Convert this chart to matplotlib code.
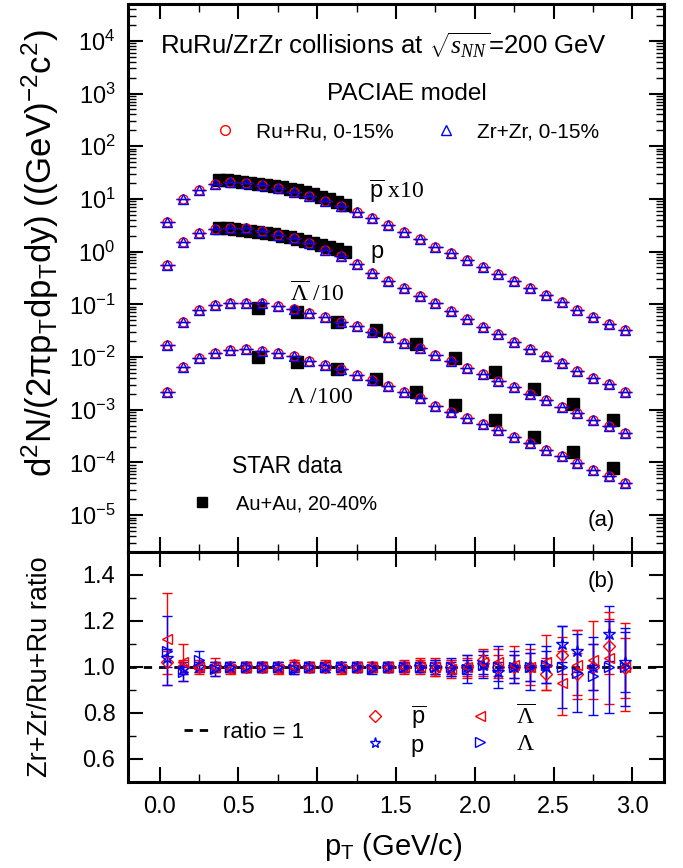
import matplotlib
matplotlib.use("Agg")
import matplotlib.pyplot as plt
from matplotlib.ticker import (LogLocator, FixedLocator, MultipleLocator,
                               FormatStrFormatter, NullFormatter)
from matplotlib.lines import Line2D

# Arial-like text, Times-like symbols
plt.rcParams["font.family"] = "Liberation Sans"
plt.rcParams["mathtext.fontset"] = "custom"
plt.rcParams["mathtext.rm"] = "Liberation Serif"
plt.rcParams["mathtext.it"] = "Liberation Serif:italic"
plt.rcParams["mathtext.bf"] = "Liberation Serif:bold"
plt.rcParams["mathtext.sf"] = "Liberation Sans"

# -- data --
pt = [0.05, 0.15, 0.25, 0.35, 0.45, 0.55, 0.65, 0.75, 0.85, 0.95,
      1.05, 1.15, 1.25, 1.35, 1.45, 1.55, 1.65, 1.75, 1.85, 1.95,
      2.05, 2.15, 2.25, 2.35, 2.45, 2.55, 2.65, 2.75, 2.85, 2.95]

# PACIAE spectra (Ru+Ru), pbar scaled x10, Lambda-bar /10, Lambda /100
ru_pbar = [3.7, 9.8, 15.0, 18.8, 20.5, 20.0, 18.5, 16.3, 13.8, 11.5,
           9.3, 7.3, 5.7, 4.3, 3.2, 2.4, 1.72, 1.25, 0.93, 0.70,
           0.52, 0.38, 0.28, 0.205, 0.148, 0.110, 0.079, 0.058, 0.043, 0.032]
ru_p = [0.555, 1.53, 2.21, 2.64, 2.83, 2.75, 2.45, 2.10, 1.78, 1.43,
        1.07, 0.82, 0.58, 0.40, 0.28, 0.20, 0.145, 0.104, 0.074, 0.052,
        0.037, 0.027, 0.0195, 0.0139, 0.0104, 0.0076, 0.0055, 0.0040, 0.0031, 0.0022]
ru_lbar = [0.0168, 0.0466, 0.0776, 0.0966, 0.104, 0.107, 0.104, 0.095, 0.083, 0.069,
           0.058, 0.0466, 0.0395, 0.030, 0.024, 0.0186, 0.0146, 0.0109, 0.0085, 0.0062,
           0.0048, 0.0035, 0.0027, 0.0020, 0.00152, 0.00112, 0.00085, 0.00065, 0.00049, 0.000355]
ru_lam = [0.0022, 0.0065, 0.0094, 0.0120, 0.0135, 0.0139, 0.0131, 0.0120, 0.0104, 0.0085,
          0.0070, 0.0058, 0.0045, 0.00365, 0.0028, 0.0022, 0.00164, 0.00117, 0.00091, 0.00071,
          0.00053, 0.00041, 0.00031, 0.00023, 0.00017, 0.000132, 0.000096, 0.000071, 0.000055, 0.000040]

# Zr+Zr points sit on top of the Ru+Ru ones at this scale
zr_pbar = ru_pbar
zr_p = ru_p
zr_lbar = ru_lbar
zr_lam = ru_lam

# STAR Au+Au 20-40%
star_pt_p = [0.375, 0.425, 0.475, 0.525, 0.575, 0.625, 0.675, 0.725, 0.775,
             0.825, 0.875, 0.925, 0.975, 1.025, 1.075, 1.125, 1.175]
star_pbar = [23.0, 22.5, 22.0, 21.0, 20.0, 19.3, 18.5, 17.5, 16.5,
             15.5, 14.5, 13.3, 12.2, 11.0, 10.0, 8.8, 7.8]
star_p = [2.75, 2.75, 2.7, 2.6, 2.5, 2.4, 2.28, 2.15, 2.0,
          1.87, 1.73, 1.6, 1.47, 1.35, 1.22, 1.1, 1.0]
star_pt_l = [0.625, 0.875, 1.125, 1.375, 1.625, 1.875, 2.125, 2.375, 2.625, 2.875]
star_lbar = [0.084, 0.072, 0.047, 0.032, 0.0176, 0.0094, 0.0052, 0.0025, 0.00128, 0.00065]
star_lam = [0.0098, 0.0081, 0.0058, 0.0038, 0.0022, 0.00122, 0.00064, 0.00031, 0.00016, 0.00008]

# Zr+Zr / Ru+Ru ratios
ratio_pbar = [1.02, 1.00, 1.00, 1.00, 1.00, 1.00, 1.00, 1.00, 1.01, 1.00,
              1.00, 1.00, 1.00, 1.00, 1.00, 1.00, 1.01, 0.99, 1.00, 1.00,
              1.03, 1.00, 1.00, 1.00, 0.97, 1.05, 0.97, 1.00, 1.09, 0.995]
err_pbar = [0.05, 0.03, 0.02, 0.02, 0.02, 0.02, 0.02, 0.02, 0.02, 0.02,
            0.02, 0.02, 0.02, 0.02, 0.02, 0.02, 0.03, 0.03, 0.03, 0.04,
            0.04, 0.05, 0.05, 0.06, 0.07, 0.08, 0.09, 0.10, 0.12, 0.13]
ratio_p = [1.04, 0.99, 1.00, 1.00, 1.00, 1.00, 1.00, 1.00, 1.00, 1.00,
           1.00, 1.00, 1.00, 1.00, 1.00, 1.00, 1.00, 1.00, 0.99, 1.00,
           1.01, 0.98, 1.00, 1.00, 1.00, 1.10, 1.07, 1.00, 1.145, 1.02]
err_p = [0.04, 0.02, 0.02, 0.02, 0.02, 0.02, 0.02, 0.02, 0.02, 0.02,
         0.02, 0.02, 0.02, 0.02, 0.02, 0.02, 0.02, 0.03, 0.03, 0.03,
         0.04, 0.04, 0.05, 0.06, 0.07, 0.08, 0.09, 0.10, 0.12, 0.13]
ratio_lbar = [1.12, 1.02, 1.00, 1.00, 0.99, 1.00, 1.00, 0.99, 1.00, 1.00,
              1.01, 0.99, 1.00, 1.00, 1.00, 1.00, 1.00, 1.00, 0.99, 1.00,
              1.02, 1.02, 1.01, 1.00, 1.02, 0.93, 1.01, 1.03, 1.04, 1.00]
err_lbar = [0.20, 0.08, 0.03, 0.04, 0.02, 0.02, 0.02, 0.02, 0.03, 0.02,
            0.02, 0.02, 0.02, 0.02, 0.02, 0.03, 0.03, 0.04, 0.04, 0.05,
            0.06, 0.06, 0.08, 0.08, 0.12, 0.14, 0.15, 0.17, 0.20, 0.19]
ratio_lam = [1.07, 0.98, 1.03, 0.99, 1.00, 1.00, 1.00, 1.00, 0.99, 1.00,
             1.00, 1.00, 1.00, 0.99, 1.00, 1.00, 1.00, 1.00, 1.00, 0.99,
             1.01, 1.00, 1.00, 1.00, 1.01, 1.00, 0.975, 0.96, 1.00, 1.00]
err_lam = [0.15, 0.04, 0.04, 0.03, 0.02, 0.02, 0.02, 0.02, 0.02, 0.02,
           0.02, 0.02, 0.02, 0.02, 0.02, 0.02, 0.02, 0.03, 0.04, 0.06,
           0.06, 0.09, 0.07, 0.10, 0.08, 0.18, 0.17, 0.17, 0.20, 0.17]

fig = plt.figure(figsize=(6.83, 8.68), dpi=100)
ax1 = fig.add_axes([0.1874, 0.3641, 0.7848, 0.6313])
ax2 = fig.add_axes([0.1874, 0.0991, 0.7848, 0.2650])

# -- top panel: spectra --
for ys in [ru_pbar, ru_p, ru_lbar, ru_lam]:
    ax1.errorbar(pt, ys, xerr=0.045, fmt="o", ms=6.5, mfc="none", mec="red",
                 mew=1.0, ecolor="red", elinewidth=1.0, capsize=0, zorder=3)
for ys in [zr_pbar, zr_p, zr_lbar, zr_lam]:
    ax1.errorbar(pt, ys, xerr=0.045, fmt="^", ms=7.5, mfc="none", mec="blue",
                 mew=1.0, ecolor="blue", elinewidth=1.0, capsize=0, zorder=4)

ax1.plot(star_pt_p, star_pbar, "s", color="black", ms=9, zorder=2)
ax1.plot(star_pt_p, star_p, "s", color="black", ms=9, zorder=2)
ax1.plot(star_pt_l, star_lbar, "s", color="black", ms=9, zorder=2)
ax1.plot(star_pt_l, star_lam, "s", color="black", ms=9, zorder=2)

ax1.set_yscale("log")
ax1.set_xlim(-0.2, 3.2)
ax1.set_ylim(2e-6, 5e4)
ax1.yaxis.set_major_locator(FixedLocator([10.0 ** k for k in range(-5, 5)]))
ax1.yaxis.set_minor_locator(LogLocator(base=10, subs=[2, 3, 4, 5, 6, 7, 8, 9], numticks=300))
ax1.yaxis.set_minor_formatter(NullFormatter())
ax1.xaxis.set_major_locator(MultipleLocator(0.5))
ax1.xaxis.set_minor_locator(MultipleLocator(0.25))
ax1.tick_params(axis="x", labelbottom=False)

ax1.text(0.0, 8.3e3, r"RuRu/ZrZr collisions at $\sqrt{s_{NN}}$=200 GeV",
         fontsize=18.5, ha="left", va="center")
ax1.text(1.57, 1000, "PACIAE model", fontsize=17.5, ha="center", va="center")

model_handles = [Line2D([], [], ls="none", marker="o", ms=7, mfc="none", mec="red", mew=1),
                 Line2D([], [], ls="none", marker="^", ms=7, mfc="none", mec="blue", mew=1)]
leg1 = ax1.legend(model_handles, ["Ru+Ru, 0-15%", "Zr+Zr, 0-15%"], ncol=2, frameon=False,
                  fontsize=15, loc="center left", bbox_to_anchor=(0.282, 185),
                  bbox_transform=ax1.transData, borderpad=0, handlelength=1,
                  handletextpad=1.0, columnspacing=2.0)
ax1.add_artist(leg1)

ax1.text(0.807, 8.3e-5, "STAR data", fontsize=16.5, ha="center", va="center")
star_handle = [Line2D([], [], ls="none", marker="s", ms=7, color="black")]
ax1.legend(star_handle, ["Au+Au, 20-40%"], frameon=False, fontsize=14.5,
           loc="center left", bbox_to_anchor=(0.14, 1.66e-5), bbox_transform=ax1.transData,
           borderpad=0, handlelength=1, handletextpad=1.2)

ax1.text(1.33, 13.6, r"$\overline{\mathdefault{p}}\ \mathrm{x10}$", fontsize=17, ha="left", va="center")
ax1.text(1.34, 1.0, "p", fontsize=17, ha="left", va="center")
ax1.text(0.83, 0.16, r"$\overline{\Lambda}\ /10$", fontsize=17, ha="left", va="center")
ax1.text(0.81, 1.76e-3, r"$\Lambda\ /100$", fontsize=17, ha="left", va="center")
ax1.text(2.8, 8e-6, "(a)", fontsize=16, ha="center", va="center")

ax1.set_ylabel(r"$\mathsf{d^{2}N/(2πp_{T}dp_{T}dy)\ ((GeV)^{-2}c^{2})}$", fontsize=25)
ax1.yaxis.set_label_coords(-0.125, 0.545)

# -- bottom panel: ratios --
ax2.axhline(1.0, color="black", lw=2, ls=(0, (3, 2.5)), zorder=1)
ax2.errorbar(pt, ratio_pbar, yerr=err_pbar, fmt="D", ms=6.5, mfc="none", mec="red", mew=1,
             ecolor="red", elinewidth=1, capsize=3.5, zorder=3)
ax2.errorbar(pt, ratio_p, yerr=err_p, fmt="*", ms=9, mfc="none", mec="blue", mew=1,
             ecolor="blue", elinewidth=1, capsize=3.5, zorder=3)
ax2.errorbar(pt, ratio_lbar, yerr=err_lbar, fmt="<", ms=7.5, mfc="none", mec="red", mew=1,
             ecolor="red", elinewidth=1, capsize=3.5, zorder=3)
ax2.errorbar(pt, ratio_lam, yerr=err_lam, fmt=">", ms=7.5, mfc="none", mec="blue", mew=1,
             ecolor="blue", elinewidth=1, capsize=3.5, zorder=3)

ax2.set_xlim(-0.2, 3.2)
ax2.set_ylim(0.5, 1.5)
ax2.xaxis.set_major_locator(MultipleLocator(0.5))
ax2.xaxis.set_minor_locator(MultipleLocator(0.25))
ax2.xaxis.set_major_formatter(FormatStrFormatter("%.1f"))
ax2.yaxis.set_major_locator(MultipleLocator(0.2))
ax2.yaxis.set_minor_locator(MultipleLocator(0.1))
ax2.yaxis.set_major_formatter(FormatStrFormatter("%.1f"))

ratio_handle = [Line2D([], [], color="black", lw=2, ls=(0, (3, 2.5)))]
leg2 = ax2.legend(ratio_handle, ["ratio = 1"], frameon=False, fontsize=16, loc="center left",
                  bbox_to_anchor=(0.084, 0.715), bbox_transform=ax2.transData,
                  borderpad=0, handlelength=1.3, handletextpad=0.45)
ax2.add_artist(leg2)
species_handles = [
    Line2D([], [], ls="none", marker="D", ms=6.5, mfc="none", mec="red", mew=1),
    Line2D([], [], ls="none", marker="*", ms=8, mfc="none", mec="blue", mew=1),
    Line2D([], [], ls="none", marker="<", ms=7, mfc="none", mec="red", mew=1),
    Line2D([], [], ls="none", marker=">", ms=7, mfc="none", mec="blue", mew=1),
]
species_labels = [r"$\overline{\mathdefault{p}}$", "p", r"$\overline{\Lambda}$", r"$\Lambda$"]
ax2.legend(species_handles, species_labels, ncol=2, frameon=False, fontsize=17,
           loc="center left", bbox_to_anchor=(1.22, 0.725), bbox_transform=ax2.transData,
           borderpad=0, handlelength=1, handletextpad=1.0, columnspacing=1.8,
           labelspacing=0.15)
ax2.text(2.8, 1.37, "(b)", fontsize=16, ha="center", va="center")

ax2.set_ylabel("Zr+Zr/Ru+Ru ratio", fontsize=19.5)
ax2.yaxis.set_label_coords(-0.14, 0.5)
ax2.set_xlabel(r"$\mathdefault{p_{T}}$ (GeV/c)", fontsize=21, va="center")
ax2.xaxis.set_label_coords(0.495, -0.283)

for ax in [ax1, ax2]:
    ax.tick_params(which="both", direction="in", top=True, right=True, labelsize=17)
    ax.tick_params(which="major", length=11, width=1.5)
    ax.tick_params(which="minor", length=6, width=1.0)
    ax.tick_params(axis="y", pad=9)
    ax.tick_params(axis="x", pad=10)
    for s in ax.spines.values():
        s.set_linewidth(2.2)

fig.savefig("out.png", dpi=100)
